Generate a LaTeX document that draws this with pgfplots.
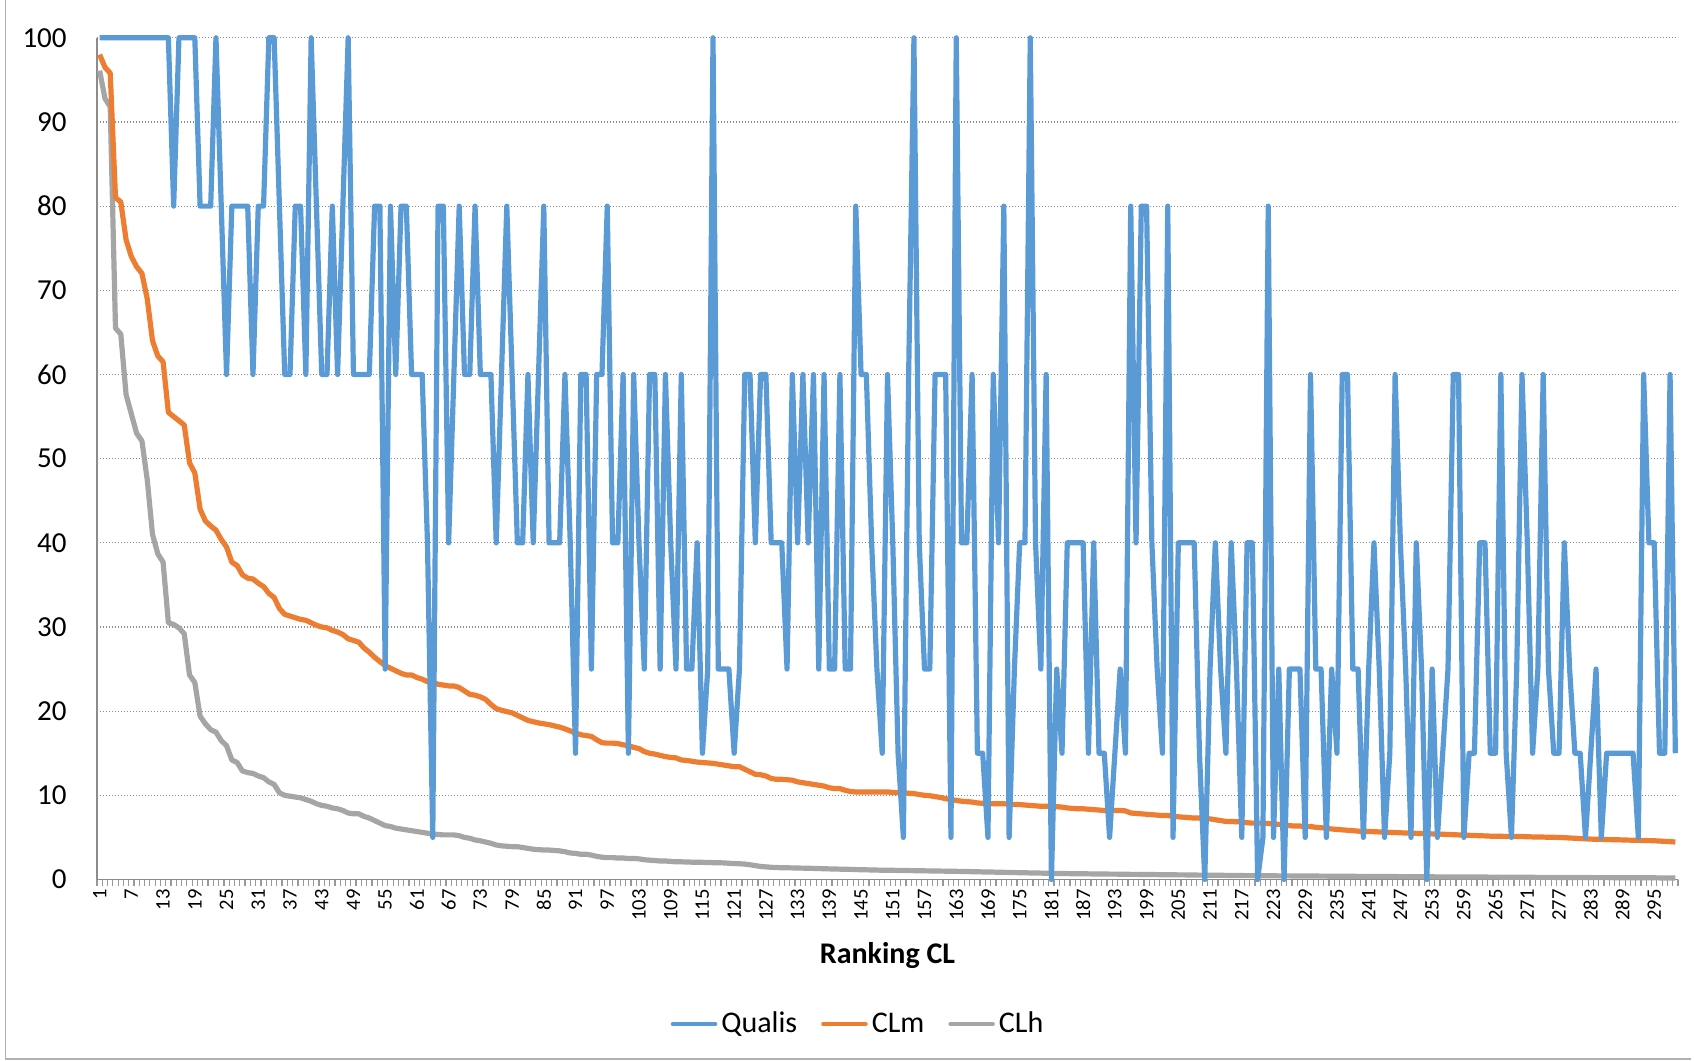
\documentclass[border=0pt]{standalone}
\usepackage{pgfplots}
\usepackage{pgfplotstable}
\pgfplotsset{compat=1.18}
\usepackage{fontspec}
\setmainfont{Carlito}
\definecolor{qblue}{HTML}{5B9BD5}
\definecolor{corange}{HTML}{ED7D31}
\definecolor{cgray}{HTML}{A5A5A5}
\pgfplotstableread{
k q m h
1 100 98.0 96.1
2 100 96.5 92.8
3 100 95.8 91.8
4 100 81.0 65.5
5 100 80.5 64.8
6 100 76.0 57.6
7 100 74.0 55.3
8 100 72.8 53.0
9 100 72.0 52.1
10 100 69.0 47.5
11 100 64.0 41.0
12 100 62.2 38.7
13 100 61.5 37.7
14 100 55.5 30.5
15 80 55.0 30.3
16 100 54.5 29.9
17 100 54.0 29.2
18 100 49.5 24.3
19 100 48.3 23.4
20 80 44.0 19.4
21 80 42.6 18.5
22 80 42.0 17.8
23 100 41.5 17.5
24 80 40.4 16.5
25 60 39.5 15.9
26 80 37.7 14.2
27 80 37.3 13.9
28 80 36.2 12.9
29 80 35.8 12.7
30 60 35.7 12.6
31 80 35.2 12.3
32 80 34.8 12.1
33 100 34.0 11.6
34 100 33.5 11.3
35 80 32.2 10.3
36 60 31.5 10.0
37 60 31.3 9.9
38 80 31.1 9.8
39 80 30.9 9.7
40 60 30.8 9.5
41 100 30.5 9.3
42 80 30.2 9.0
43 60 30.0 8.8
44 60 29.9 8.7
45 80 29.6 8.5
46 60 29.4 8.4
47 80 29.1 8.2
48 100 28.6 7.9
49 60 28.4 7.8
50 60 28.2 7.8
51 60 27.5 7.5
52 60 27.0 7.3
53 80 26.4 7.0
54 80 25.9 6.7
55 25 25.4 6.4
56 80 25.1 6.3
57 60 24.8 6.1
58 80 24.5 6.0
59 80 24.3 5.9
60 60 24.3 5.8
61 60 24.0 5.7
62 60 23.8 5.6
63 40 23.5 5.5
64 5 23.4 5.4
65 80 23.2 5.35
66 80 23.1 5.3
67 40 23.0 5.3
68 60 23.0 5.3
69 80 22.8 5.2
70 60 22.4 5.0
71 60 22.0 4.9
72 80 21.9 4.7
73 60 21.7 4.6
74 60 21.4 4.45
75 60 20.8 4.3
76 40 20.3 4.1
77 60 20.1 4.0
78 80 19.95 3.95
79 60 19.8 3.9
80 40 19.5 3.9
81 40 19.2 3.8
82 60 18.9 3.7
83 40 18.75 3.6
84 60 18.6 3.55
85 80 18.5 3.5
86 40 18.4 3.5
87 40 18.25 3.45
88 40 18.1 3.4
89 60 17.9 3.3
90 40 17.65 3.15
91 15 17.4 3.1
92 60 17.2 3.0
93 60 17.1 3.0
94 25 17.0 2.9
95 60 16.6 2.75
96 60 16.25 2.65
97 80 16.2 2.6
98 40 16.2 2.6
99 40 16.15 2.55
100 60 16.0 2.55
101 15 15.9 2.5
102 60 15.7 2.5
103 40 15.55 2.45
104 25 15.2 2.35
105 60 15.0 2.3
106 60 14.9 2.25
107 25 14.75 2.2
108 60 14.6 2.2
109 40 14.5 2.15
110 25 14.45 2.1
111 60 14.2 2.1
112 25 14.15 2.08
113 25 14.05 2.06
114 40 13.95 2.05
115 15 13.9 2.04
116 25 13.85 2.02
117 100 13.8 2.0
118 25 13.7 2.0
119 25 13.6 1.97
120 25 13.5 1.93
121 15 13.4 1.9
122 25 13.4 1.87
123 60 13.1 1.83
124 60 12.8 1.75
125 40 12.5 1.65
126 60 12.45 1.55
127 60 12.3 1.5
128 40 12.0 1.45
129 40 11.9 1.42
130 40 11.9 1.4
131 25 11.85 1.39
132 60 11.8 1.38
133 40 11.6 1.36
134 60 11.5 1.35
135 40 11.4 1.33
136 60 11.3 1.32
137 25 11.2 1.3
138 60 11.1 1.28
139 25 10.9 1.26
140 25 10.8 1.25
141 60 10.8 1.23
142 25 10.6 1.22
143 25 10.45 1.2
144 80 10.4 1.18
145 60 10.4 1.16
146 60 10.4 1.15
147 40 10.4 1.13
148 25 10.4 1.12
149 15 10.4 1.1
150 60 10.4 1.1
151 40 10.35 1.09
152 15 10.3 1.08
153 5 10.3 1.07
154 60 10.25 1.06
155 100 10.2 1.05
156 40 10.1 1.04
157 25 10.0 1.03
158 25 9.95 1.02
159 60 9.85 1.01
160 60 9.75 1.0
161 60 9.6 0.99
162 5 9.5 0.98
163 100 9.4 0.97
164 40 9.3 0.96
165 40 9.25 0.95
166 60 9.2 0.93
167 15 9.1 0.92
168 15 9.05 0.9
169 5 9.0 0.89
170 60 9.0 0.88
171 40 9.0 0.86
172 80 9.0 0.85
173 5 8.95 0.84
174 25 8.9 0.82
175 40 8.9 0.81
176 40 8.85 0.8
177 100 8.8 0.78
178 40 8.75 0.77
179 25 8.7 0.76
180 60 8.7 0.74
181 0 8.7 0.73
182 25 8.65 0.72
183 15 8.6 0.71
184 40 8.5 0.7
185 40 8.45 0.69
186 40 8.4 0.68
187 40 8.4 0.68
188 15 8.35 0.67
189 40 8.3 0.66
190 15 8.25 0.66
191 15 8.2 0.65
192 5 8.2 0.64
193 15 8.2 0.64
194 25 8.2 0.63
195 15 8.15 0.62
196 80 7.9 0.61
197 40 7.85 0.61
198 80 7.8 0.6
199 80 7.75 0.59
200 40 7.7 0.59
201 25 7.65 0.58
202 15 7.6 0.57
203 80 7.6 0.57
204 5 7.5 0.56
205 40 7.45 0.55
206 40 7.4 0.55
207 40 7.35 0.54
208 40 7.3 0.53
209 15 7.3 0.52
210 0 7.25 0.52
211 25 7.2 0.51
212 40 7.1 0.5
213 25 7.0 0.5
214 15 6.9 0.49
215 40 6.9 0.48
216 25 6.85 0.48
217 5 6.85 0.47
218 40 6.75 0.46
219 40 6.7 0.46
220 0 6.7 0.45
221 5 6.7 0.45
222 80 6.65 0.44
223 5 6.6 0.44
224 25 6.55 0.43
225 0 6.45 0.43
226 25 6.4 0.43
227 25 6.35 0.42
228 25 6.35 0.42
229 5 6.3 0.41
230 60 6.3 0.41
231 25 6.2 0.41
232 25 6.15 0.4
233 5 6.1 0.4
234 25 6.0 0.39
235 15 5.95 0.39
236 60 5.9 0.39
237 60 5.85 0.38
238 25 5.8 0.38
239 25 5.75 0.37
240 5 5.7 0.37
241 25 5.7 0.37
242 40 5.68 0.36
243 25 5.65 0.36
244 5 5.62 0.35
245 15 5.6 0.35
246 60 5.58 0.35
247 40 5.55 0.34
248 25 5.52 0.34
249 5 5.5 0.33
250 40 5.48 0.33
251 25 5.46 0.33
252 0 5.44 0.32
253 25 5.42 0.32
254 5 5.4 0.31
255 15 5.38 0.31
256 25 5.35 0.31
257 60 5.32 0.3
258 60 5.3 0.3
259 5 5.28 0.3
260 15 5.25 0.3
261 15 5.22 0.29
262 40 5.2 0.29
263 40 5.18 0.29
264 15 5.15 0.28
265 15 5.14 0.28
266 60 5.13 0.28
267 15 5.12 0.27
268 5 5.11 0.27
269 25 5.1 0.27
270 60 5.1 0.26
271 40 5.08 0.26
272 15 5.06 0.26
273 25 5.05 0.25
274 60 5.04 0.25
275 25 5.02 0.25
276 15 5.01 0.25
277 15 5.0 0.24
278 40 4.97 0.24
279 25 4.93 0.24
280 15 4.9 0.23
281 15 4.87 0.23
282 5 4.83 0.23
283 15 4.8 0.23
284 25 4.78 0.22
285 5 4.77 0.22
286 15 4.75 0.22
287 15 4.73 0.22
288 15 4.72 0.21
289 15 4.7 0.21
290 15 4.68 0.21
291 15 4.67 0.21
292 5 4.65 0.2
293 60 4.63 0.2
294 40 4.62 0.2
295 40 4.6 0.2
296 15 4.57 0.19
297 15 4.53 0.19
298 60 4.5 0.19
299 15 4.45 0.18
}\datatable
\begin{document}
\begin{tikzpicture}
\path[use as bounding box] (-48.5pt,-90.75pt) rectangle (798.5pt,439.75pt);
\begin{axis}[
  at={(0pt,0pt)}, anchor=south west,
  scale only axis, width=790.5pt, height=420.85pt,
  xmin=0.5, xmax=299.5, ymin=0, ymax=100,
  clip=false,
  axis lines*=left,
  axis line style={color=black!45, line width=0.7pt},
  xtick={1,7,...,295},
  minor xtick={0.5,1.5,...,299.5},
  ytick={0,10,...,100},
  major tick length=0pt, minor tick length=3pt,
  tick align=outside,
  tick style={color=black!40, line width=0.6pt},
  ymajorgrids,
  major grid style={color=black!45, line width=0.6pt, dash pattern=on 0.7pt off 0.8pt},
  /pgf/number format/assume math mode=true,
  xticklabel style={font=\fontsize{10.3}{12}\selectfont, yshift=-4.75pt, rotate=90, anchor=east, inner sep=0pt},
  yticklabel style={font=\fontsize{14.5}{17}\selectfont, anchor=east, inner sep=0pt, xshift=-15pt},
  xlabel={Ranking CL},
  xlabel style={at={(axis description cs:0.5,0)}, anchor=center, yshift=-38.25pt, font=\bfseries\fontsize{15}{18}\selectfont},
  legend columns=3,
  legend style={at={(axis description cs:0.482,-0.1717)}, anchor=center, draw=none, fill=none,
    font=\fontsize{15}{18}\selectfont,
    /tikz/every even column/.append style={column sep=10pt}},
  legend image code/.code={\draw[#1, line width=2.3pt, line cap=round] (0pt,0pt) -- (21pt,0pt);},
]
\addlegendimage{qblue}
\addlegendentry{Qualis}
\addlegendimage{corange}
\addlegendentry{CLm}
\addlegendimage{cgray}
\addlegendentry{CLh}
\addplot[cgray, line width=2.6pt, line join=round, forget plot] table[x=k, y=h] {\datatable};
\addplot[corange, line width=2.6pt, line join=round, forget plot] table[x=k, y=m] {\datatable};
\addplot[qblue, line width=2.6pt, line join=round, forget plot] table[x=k, y=q] {\datatable};
\end{axis}
\draw[black!30, line width=0.7pt] (-45.8pt,439.75pt) -- (-45.8pt,-89.75pt) -- (797pt,-89.75pt);
\end{tikzpicture}
\end{document}
